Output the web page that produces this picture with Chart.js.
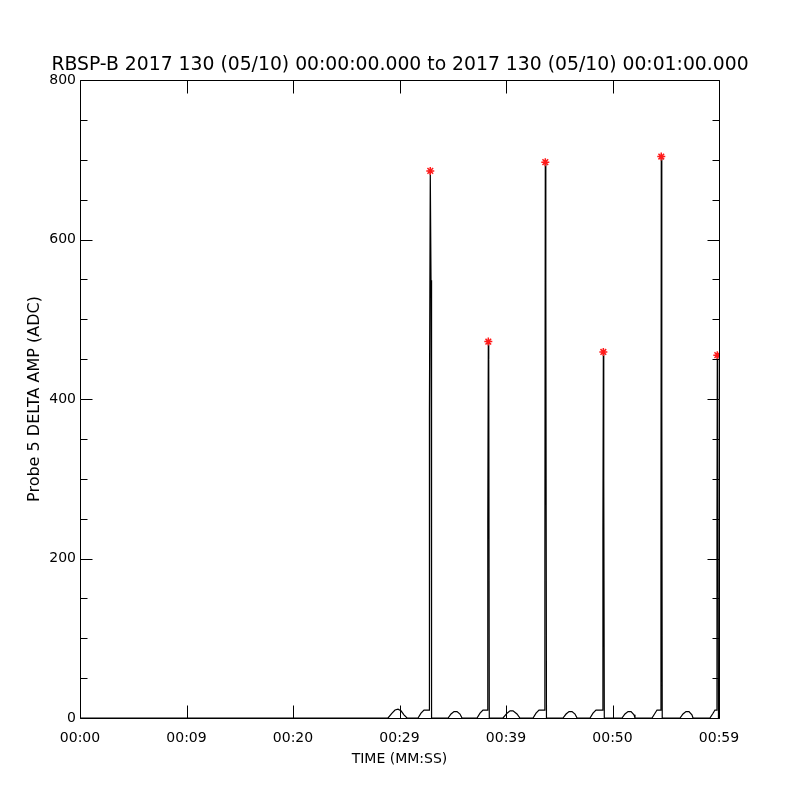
<!DOCTYPE html>
<html>
<head>
<meta charset="utf-8">
<script src="https://cdn.jsdelivr.net/npm/chart.js@4/dist/chart.umd.min.js"></script>
<style>
  html, body { margin: 0; padding: 0; background: #fff; }
  #c { display: block; }
</style>
</head>
<body>
<canvas id="c" width="800" height="800"></canvas>
<script>
// ---- data (seconds since 00:00:00, amplitude in ADC) ----
const titleText = 'RBSP-B 2017 130 (05/10) 00:00:00.000 to 2017 130 (05/10) 00:01:00.000';
const xTickLabels = ['00:00', '00:09', '00:20', '00:29', '00:39', '00:50', '00:59'];
const xTickValues = [0, 10, 20, 30, 40, 50, 60];
const yMajorTicks = [0, 200, 400, 600, 800];
const yMinorTicks = [50, 100, 150, 250, 300, 350, 450, 500, 550, 650, 700, 750];

const times = [
  0.00, 28.92,
  29.30, 29.58, 29.86, 30.14, 30.42, 30.71,
  31.74, 32.02, 32.30, 32.77, 32.81, 32.89, 32.96, 33.01,
  34.56, 34.84, 35.12, 35.40, 35.68, 35.87,
  37.28, 37.56, 37.84, 38.26, 38.29, 38.34, 38.38, 38.43,
  39.72, 40.10, 40.38, 40.66, 41.03, 41.31,
  42.54, 42.82, 43.10, 43.62, 43.65, 43.69, 43.74, 43.80,
  45.35, 45.64, 45.92, 46.20, 46.48, 46.67,
  47.89, 48.17, 48.45, 49.06, 49.10, 49.14, 49.18, 49.23,
  50.89, 51.17, 51.46, 51.74, 52.02, 52.11,
  53.71, 53.99, 54.18, 54.54, 54.55, 54.58, 54.63, 54.67,
  56.34, 56.62, 56.90, 57.18, 57.46, 57.56,
  59.15, 59.44, 59.62, 59.79, 59.81, 59.84, 59.88, 59.95
];
const amps = [
  0, 0,
  6, 10, 11, 9, 4, 0,
  0, 6, 10, 10, 385, 686, 549, 0,
  0, 5, 8, 8, 5, 0,
  0, 6, 10, 10, 248, 472, 450, 0,
  0, 6, 9, 9, 5, 0,
  0, 6, 10, 10, 196, 697, 546, 0,
  0, 5, 8, 8, 5, 0,
  0, 6, 10, 10, 236, 459, 300, 0,
  0, 5, 8, 8, 4, 0,
  0, 6, 10, 10, 187, 704, 400, 0,
  0, 5, 8, 8, 4, 0,
  0, 6, 10, 10, 240, 455, 450, 0
];
const peakTimes = [32.89, 38.34, 43.69, 49.14, 54.58, 59.84];
const peakAmps  = [686, 472, 697, 459, 704, 455];

// ---- chart ----
const FONT = 'DejaVu Sans';

const frameTicks = {
  id: 'frameTicks',
  afterDatasetsDraw(chart) {
    const ctx = chart.ctx;
    const xs = chart.scales.x, ys = chart.scales.y;
    const a = chart.chartArea;
    const L = Math.round(a.left) + 0.5, R = Math.round(a.right) + 0.5;
    const T = Math.round(a.top) + 0.5, B = Math.round(a.bottom) + 0.5;
    ctx.save();
    ctx.strokeStyle = '#000';
    ctx.lineWidth = 1;
    ctx.beginPath();
    ctx.rect(L, T, R - L, B - T);
    xTickValues.forEach(v => {
      const px = Math.round(xs.getPixelForValue(v)) + 0.5;
      ctx.moveTo(px, B); ctx.lineTo(px, B - 13);
      ctx.moveTo(px, T); ctx.lineTo(px, T + 13);
    });
    yMajorTicks.forEach(v => {
      const py = Math.round(ys.getPixelForValue(v)) + 0.5;
      ctx.moveTo(L, py); ctx.lineTo(L + 12, py);
      ctx.moveTo(R, py); ctx.lineTo(R - 12, py);
    });
    yMinorTicks.forEach(v => {
      const py = Math.round(ys.getPixelForValue(v)) + 0.5;
      ctx.moveTo(L, py); ctx.lineTo(L + 7, py);
      ctx.moveTo(R, py); ctx.lineTo(R - 7, py);
    });
    ctx.stroke();
    ctx.restore();
  }
};

new Chart(document.getElementById('c'), {
  type: 'line',
  data: {
    datasets: [
      {
        label: 'amp',
        data: times.map((t, i) => ({ x: t, y: amps[i] })),
        borderColor: '#000',
        borderWidth: 1.2,
        pointRadius: 0,
        tension: 0,
        fill: false,
        order: 2
      },
      {
        label: 'peaks',
        type: 'scatter',
        data: peakTimes.map((t, i) => ({ x: t, y: peakAmps[i] })),
        pointStyle: 'star',
        pointRadius: 4,
        borderColor: '#ff1a1a',
        backgroundColor: '#ff1a1a',
        borderWidth: 1.5,
        showLine: false,
        order: 1
      }
    ]
  },
  options: {
    responsive: false,
    animation: false,
    devicePixelRatio: 1,
    layout: { padding: 0 },
    plugins: {
      legend: { display: false },
      tooltip: { enabled: false },
      title: {
        display: true,
        text: titleText,
        color: '#000',
        font: { family: FONT, size: 18.8, weight: 'normal' },
        padding: { top: 54, bottom: 3.44 }
      }
    },
    scales: {
      x: {
        type: 'linear',
        min: 0, max: 60,
        afterFit(s) { s.height = 82; },
        grid: { display: false, drawTicks: false },
        border: { display: false },
        afterBuildTicks(s) { s.ticks = xTickValues.map(v => ({ value: v })); },
        ticks: {
          color: '#000',
          font: { family: FONT, size: 14 },
          padding: 12,
          maxRotation: 0,
          autoSkip: false,
          callback: (v) => xTickLabels[xTickValues.indexOf(v)]
        },
        title: {
          display: true,
          text: 'TIME (MM:SS)',
          color: '#000',
          font: { family: FONT, size: 14 },
          padding: { top: 0, bottom: 32.6 }
        }
      },
      y: {
        type: 'linear',
        position: 'left',
        min: 0, max: 800,
        afterFit(s) { s.width = 80; },
        grid: { display: false, drawTicks: false },
        border: { display: false },
        afterBuildTicks(s) { s.ticks = yMajorTicks.map(v => ({ value: v })); },
        ticks: {
          color: '#000',
          font: { family: FONT, size: 14 },
          padding: 4,
          autoSkip: false
        },
        title: {
          display: true,
          text: 'Probe 5 DELTA AMP (ADC)',
          color: '#000',
          font: { family: FONT, size: 16 },
          padding: { top: 25.4, bottom: 0 }
        }
      },
      yRight: {
        type: 'linear',
        position: 'right',
        min: 0, max: 800,
        afterFit(s) { s.width = 81; },
        grid: { display: false, drawTicks: false },
        border: { display: false },
        ticks: { display: false }
      }
    }
  },
  plugins: [frameTicks]
});
</script>
</body>
</html>
